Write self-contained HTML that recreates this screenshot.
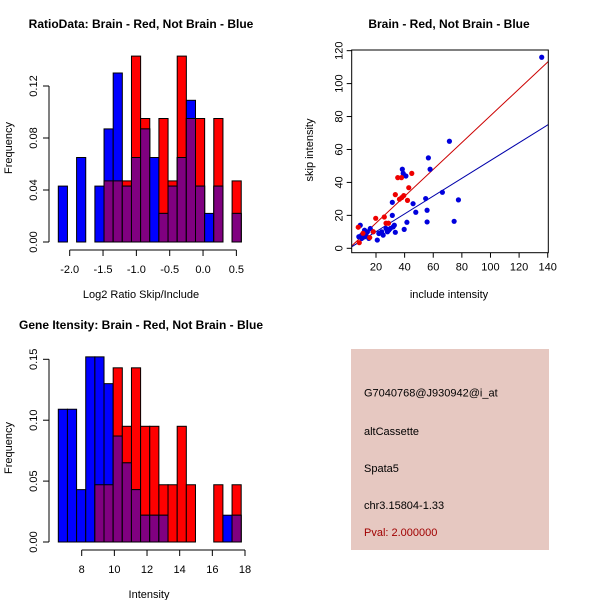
<!DOCTYPE html>
<html><head><meta charset="utf-8"><style>
html,body{margin:0;padding:0;background:#fff;}
svg{display:block;font-family:"Liberation Sans",Arial,sans-serif;}
</style></head><body>
<svg id="s" width="600" height="600" viewBox="0 0 600 600">
<rect x="0" y="0" width="600" height="600" fill="#fff"/>
</svg>
<script>
// ---- Ratio histogram data ----
const ratioBinStart = -2.171;
const ratioBinWidth = 0.1372;
const ratioRed  = [0,0,0,0,0,0.047,0.047,0.047,0.143,0.095,0,0.095,0.047,0.143,0.095,0.095,0,0.095,0,0.047];
const ratioBlue = [0.043,0,0.065,0,0.043,0.087,0.130,0.043,0.065,0.087,0.065,0.022,0.043,0.065,0.109,0.043,0.022,0.043,0,0.022];
const ratioXTicks = [-2.0,-1.5,-1.0,-0.5,0.0,0.5];
const ratioXTickLabels = ["-2.0","-1.5","-1.0","-0.5","0.0","0.5"];
const ratioYTicks = [0,0.04,0.08,0.12];
const ratioYTickLabels = ["0.00","0.04","0.08","0.12"];
// ---- Intensity histogram data ----
const intBinStart = 6.567;
const intBinWidth = 0.56;
const intRed  = [0,0,0,0,0.047,0.047,0.143,0.095,0.143,0.095,0.095,0.047,0.047,0.095,0.047,0,0,0.047,0,0.047];
const intBlue = [0.109,0.109,0.043,0.152,0.152,0.130,0.087,0.065,0.043,0.022,0.022,0.022,0,0,0,0,0,0,0.022,0.022];
const intXTicks = [8,10,12,14,16,18];
const intYTicks = [0,0.05,0.10,0.15];
const intYTickLabels = ["0.00","0.05","0.10","0.15"];
// ---- Scatter data ----
const blueX = [135.8,71.3,56.6,57.8,38.4,39,40.9,77.6,66.4,54.7,45.9,47.8,55.7,55.7,74.6,41.6,39.7,31.4,31.4,33.5,32.8,20.9,13,14,9,10,11,12,15,16,18,22,24,25,27,28,29,30,32,8,10,12];
const blueY = [116,65,54.9,48,48,45.5,43.9,29.4,34,30.2,27.1,21.9,23.1,16,16.4,15.8,11.5,27.9,20,9.7,14,5,8,10,14,8,9,7,6,12,10,9,10,8,12,10,11,12,13,7,6,11];
const redX = [7.6,8.3,19.8,25.8,18.1,27,28.7,33.5,35.2,37.8,45,42.9,39.4,36.4,38,42,15.6,10.9];
const redY = [12.8,3.4,18.2,19,10.1,15.2,15.2,32.6,42.9,42.9,45.5,36.8,32,29.8,30.8,29.1,6.5,9.1];
const redFit = [0.815,-1.0];   // slope, intercept
const blueFit = [0.54,-0.7];
const scXTicks = [20,40,60,80,100,120,140];
const scYTicks = [0,20,40,60,80,100,120];

const NS="http://www.w3.org/2000/svg";
const svg=document.getElementById('s');
function mk(tag,attrs,parent){const e=document.createElementNS(NS,tag);for(const k in attrs)e.setAttribute(k,attrs[k]);(parent||svg).appendChild(e);return e;}
function txt(str,x,y,attrs,parent){const e=mk('text',Object.assign({x:x,y:y,'font-size':11,'text-anchor':'middle',fill:'#000'},attrs||{}),parent);e.textContent=str;return e;}

function hist(g,cfg){
  const sx=v=>cfg.x0+(v-cfg.v0)*cfg.kx;
  const sy=v=>cfg.base-v*cfg.ky;
  for(let i=0;i<cfg.red.length;i++){
    const a=cfg.start+i*cfg.w, b=a+cfg.w;
    const x1=sx(a), x2=sx(b);
    const r=cfg.red[i], bl=cfg.blue[i], m=Math.min(r,bl);
    if(r>0){const e=mk('rect',{x:x1,y:sy(r),width:x2-x1,height:r*cfg.ky,fill:'#ff0000',stroke:'#000','stroke-width':1},g);
      
      }
    if(bl>0){const e=mk('rect',{x:x1,y:sy(bl),width:x2-x1,height:bl*cfg.ky,fill:'#0000ff',stroke:'#000','stroke-width':1},g);
      
      }
    if(m>0){const e=mk('rect',{x:x1,y:sy(m),width:x2-x1,height:m*cfg.ky,fill:'#800080',stroke:'#000','stroke-width':1},g);
      
      }
  }
  // y axis
  const ya=mk('g',{},g);
  
  
  const yt=cfg.yTicks;
  mk('line',{x1:cfg.yAxisX,x2:cfg.yAxisX,y1:sy(yt[0]),y2:sy(yt[yt.length-1]),stroke:'#000'},ya);
  yt.forEach((t,i)=>{const y=sy(t);mk('line',{x1:cfg.yAxisX-6,x2:cfg.yAxisX,y1:y,y2:y,stroke:'#000'},ya);
    txt(cfg.yLabels[i],cfg.yAxisX-12,y,{transform:`rotate(-90 ${cfg.yAxisX-12} ${y})`},ya);});
  // x axis
  const xa=mk('g',{},g);
  
  
  const xt=cfg.xTicks;
  mk('line',{x1:sx(xt[0]),x2:sx(xt[xt.length-1]),y1:cfg.xAxisY,y2:cfg.xAxisY,stroke:'#000'},xa);
  xt.forEach((t,i)=>{const x=sx(t);mk('line',{x1:x,x2:x,y1:cfg.xAxisY,y2:cfg.xAxisY+6,stroke:'#000'},xa);
    txt(cfg.xLabels[i],x,cfg.xAxisY+23,{},xa);});
}

// Top-left histogram
const g1=mk('g',{});


hist(g1,{red:ratioRed,blue:ratioBlue,start:ratioBinStart,w:ratioBinWidth,x0:69.7,v0:-2,kx:66.67,base:242,ky:1300,
  yAxisX:49,xAxisY:250,xTicks:ratioXTicks,xLabels:ratioXTickLabels,yTicks:ratioYTicks,yLabels:ratioYTickLabels});
let t=txt('RatioData: Brain - Red, Not Brain - Blue',141,28,{'font-weight':'bold','font-size':12},g1);

t=txt('Log2 Ratio Skip/Include',141,298,{},g1);

t=txt('Frequency',12,148,{transform:'rotate(-90 12 148)'},g1);


// Bottom-left histogram
const g2=mk('g',{});


hist(g2,{red:intRed,blue:intBlue,start:intBinStart,w:intBinWidth,x0:81.7,v0:8,kx:16.33,base:542,ky:1218,
  yAxisX:49,xAxisY:550,xTicks:intXTicks,xLabels:intXTicks.map(String),yTicks:intYTicks,yLabels:intYTickLabels});
t=txt('Gene Itensity: Brain - Red, Not Brain - Blue',141,329,{'font-weight':'bold','font-size':12},g2);

t=txt('Intensity',149,598,{},g2);

t=txt('Frequency',12,448,{transform:'rotate(-90 12 448)'},g2);


// Scatter
const g3=mk('g',{});


const L=351.7,R=548.3,T=50,B=252.7;
const sx=v=>376+(v-20)*1.431, sy=v=>248.3-v*1.647;
mk('defs',{},g3).innerHTML='<clipPath id="cp"><rect x="'+L+'" y="'+T+'" width="'+(R-L)+'" height="'+(B-T)+'"/></clipPath>';
const xmin=(L-376)/1.431+20, xmax=(R-376)/1.431+20;
[[redFit,'#cc0000','red-fit-line'],[blueFit,'#0000aa','blue-fit-line']].forEach(([f,c,n])=>{
  const e=mk('line',{x1:sx(xmin),y1:sy(f[0]*xmin+f[1]),x2:sx(xmax),y2:sy(f[0]*xmax+f[1]),stroke:c,'stroke-width':1,'clip-path':'url(#cp)'},g3);
  
  
});
blueX.forEach((x,i)=>{const e=mk('circle',{cx:sx(x),cy:sy(blueY[i]),r:2.6,fill:'#0000dd'},g3);
  
  });
redX.forEach((x,i)=>{const e=mk('circle',{cx:sx(x),cy:sy(redY[i]),r:2.6,fill:'#ee0000'},g3);
  
  });
const box=mk('rect',{x:L,y:T,width:R-L,height:B-T,fill:'none',stroke:'#000'},g3);

const sxa=mk('g',{},g3);


scXTicks.forEach(v=>{const x=sx(v);mk('line',{x1:x,x2:x,y1:B,y2:B+5,stroke:'#000'},sxa);txt(String(v),x,B+18,{},sxa);});
const sya=mk('g',{},g3);


scYTicks.forEach(v=>{const y=sy(v);mk('line',{x1:L-5,x2:L,y1:y,y2:y,stroke:'#000'},sya);txt(String(v),L-9,y,{transform:`rotate(-90 ${L-9} ${y})`},sya);});
t=txt('Brain - Red, Not Brain - Blue',449,28,{'font-weight':'bold','font-size':12},g3);

t=txt('include intensity',449,298,{},g3);

t=txt('skip intensity',313,150,{transform:'rotate(-90 313 150)'},g3);


// Info box
const g4=mk('g',{});


mk('rect',{x:351,y:349,width:198,height:201,fill:'#e6c8c1'},g4);
[['G7040768@J930942@i_at',396.5,'#000','probe-id'],['altCassette',435,'#000','event-type'],['Spata5',472,'#000','gene-name'],['chr3.15804-1.33',509,'#000','location'],['Pval: 2.000000',536,'#a00000','p-value']].forEach(([s,y,c,n])=>{
  const e=txt(s,364,y,{'text-anchor':'start',fill:c},g4);
  
  
});
</script>
</body></html>
